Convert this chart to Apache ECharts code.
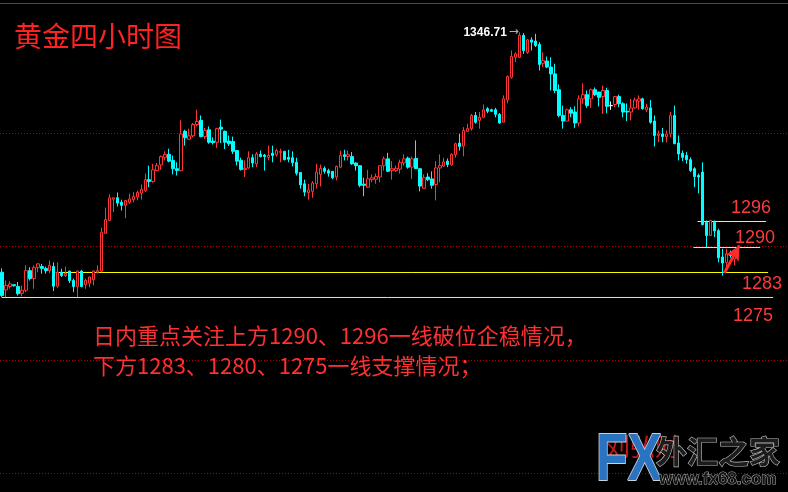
<!DOCTYPE html>
<html><head><meta charset="utf-8">
<script src="https://cdn.jsdelivr.net/npm/echarts@6/dist/echarts.min.js"></script>
<style>html,body{margin:0;padding:0;background:#000;}#c{width:788px;height:492px;}</style>
</head><body><div id="c"></div>
<script>
// ---------- data ----------
const title = '黄金四小时图';
// [open, close, low, high]
const ohlc = [
[1283.2,1277.0,1276.5,1284.2],[1278.5,1279.7,1276.6,1281.0],[1279.4,1280.1,1278.8,1280.8],[1279.9,1279.6,1279.4,1279.95],
[1279.4,1277.5,1277.0,1280.6],[1277.6,1278.4,1276.8,1279.7],[1278.4,1283.6,1277.9,1285.0],[1283.6,1281.5,1281.0,1284.5],
[1281.5,1284.4,1278.8,1285.0],[1284.4,1285.4,1283.2,1285.6],[1284.7,1284.2,1282.8,1285.4],[1284.2,1283.6,1282.8,1284.7],
[1283.6,1285.0,1282.9,1286.3],[1284.7,1279.5,1278.2,1285.8],[1279.5,1283.2,1279.1,1285.8],[1283.2,1282.3,1281.9,1284.1],
[1282.3,1282.9,1281.9,1284.7],[1283.5,1281.0,1280.3,1283.6],[1281.0,1279.4,1277.9,1281.5],[1279.4,1283.5,1276.6,1283.6],
[1283.5,1279.4,1279.2,1283.8],[1279.9,1281.0,1278.8,1281.5],[1280.3,1281.9,1279.2,1282.1],[1281.2,1283.5,1279.7,1283.6],
[1283.2,1283.6,1282.8,1285.0],[1283.5,1293.8,1283.2,1295.0],[1293.5,1297.1,1293.4,1300.3],[1296.9,1302.9,1296.7,1303.8],
[1302.5,1302.9,1299.1,1302.9],[1302.9,1301.5,1300.6,1304.3],[1301.7,1300.9,1299.5,1302.4],[1300.9,1302.2,1297.5,1302.2],
[1301.7,1302.6,1301.3,1304.0],[1302.4,1303.2,1301.7,1304.4],[1303.1,1304.3,1302.2,1304.8],[1304.1,1305.1,1302.4,1306.4],
[1304.8,1307.7,1304.4,1309.3],[1307.7,1307.2,1305.7,1311.4],[1307.2,1310.3,1306.9,1311.9],[1310.1,1311.4,1310.1,1312.1],
[1311.6,1313.8,1310.3,1314.1],[1313.6,1314.4,1312.8,1315.2],[1314.4,1312.6,1312.3,1315.9],[1312.8,1310.6,1309.1,1314.1],
[1310.6,1310.1,1308.8,1312.3],[1310.1,1319.8,1309.9,1323.4],[1320.5,1318.8,1316.7,1320.9],[1318.4,1319.3,1318.3,1321.2],
[1319.3,1322.3,1318.9,1322.7],[1322.3,1323.1,1321.8,1326.2],[1323.4,1319.1,1318.9,1324.7],[1319.1,1320.7,1318.5,1321.4],
[1320.9,1317.6,1317.2,1321.8],[1317.9,1317.5,1317.0,1318.9],[1317.6,1321.2,1316.1,1321.4],[1321.6,1321.1,1317.4,1323.6],
[1320.5,1317.6,1315.8,1320.7],[1317.9,1317.2,1316.6,1319.4],[1317.8,1315.2,1314.5,1319.1],[1315.4,1312.6,1311.5,1315.4],
[1312.8,1310.4,1310.1,1313.5],[1310.4,1310.7,1308.4,1312.8],[1310.8,1313.5,1310.6,1315.2],[1313.5,1312.1,1311.0,1314.4],
[1311.9,1314.5,1311.0,1315.0],[1314.4,1313.8,1313.6,1315.4],[1314.2,1313.8,1310.1,1314.5],[1313.6,1314.1,1312.8,1316.7],
[1314.7,1314.1,1312.3,1316.7],[1314.3,1315.4,1313.8,1315.9],[1314.9,1315.2,1312.3,1315.9],[1315.2,1313.0,1312.8,1315.2],
[1313.6,1313.1,1312.3,1315.6],[1313.5,1312.2,1311.2,1315.2],[1312.3,1309.4,1308.8,1313.5],[1309.6,1306.3,1305.3,1309.6],
[1306.6,1304.4,1303.3,1307.7],[1304.3,1305.0,1302.4,1306.6],[1304.6,1306.8,1302.9,1307.3],[1306.6,1309.7,1305.3,1311.9],
[1309.1,1310.7,1305.9,1311.7],[1310.7,1309.9,1309.3,1311.2],[1310.1,1309.4,1308.5,1310.6],[1309.9,1308.2,1307.8,1309.9],
[1308.4,1311.2,1307.5,1311.4],[1311.0,1314.1,1310.7,1315.4],[1314.3,1313.8,1312.8,1315.6],[1313.8,1314.3,1312.8,1315.4],
[1313.8,1311.9,1311.6,1315.0],[1312.1,1311.4,1310.1,1312.3],[1311.4,1306.2,1305.7,1311.4],[1306.5,1306.2,1303.3,1308.2],
[1305.7,1307.9,1305.5,1310.3],[1307.7,1308.2,1307.0,1309.1],[1307.8,1308.5,1306.6,1309.3],[1308.4,1311.4,1307.0,1311.4],
[1311.4,1313.2,1310.1,1313.8],[1313.2,1309.9,1309.7,1314.8],[1310.1,1310.6,1307.7,1312.6],[1310.1,1310.7,1309.7,1311.4],
[1310.5,1312.2,1309.3,1313.0],[1312.1,1313.2,1311.4,1314.4],[1313.4,1311.0,1310.6,1313.8],[1311.0,1313.2,1307.9,1313.8],
[1313.3,1310.6,1310.6,1318.1],[1310.6,1306.0,1304.6,1310.6],[1305.4,1308.2,1305.3,1309.1],[1308.4,1307.7,1307.3,1309.4],
[1307.9,1306.2,1305.3,1309.9],[1306.4,1310.8,1302.2,1312.6],[1310.8,1311.4,1307.0,1314.4],[1311.3,1312.4,1311.0,1313.5],
[1312.6,1311.7,1311.0,1313.3],[1311.6,1314.4,1311.4,1314.7],[1314.3,1317.2,1313.5,1317.5],[1317.4,1316.5,1315.4,1319.8],
[1316.6,1320.7,1313.9,1321.6],[1320.5,1321.2,1320.3,1322.5],[1321.2,1324.7,1320.7,1325.1],[1324.7,1322.9,1322.5,1325.6],
[1323.4,1324.2,1321.2,1325.6],[1324.2,1326.2,1324.1,1327.6],[1326.5,1325.8,1325.3,1326.9],[1326.2,1325.8,1325.7,1326.5],
[1326.2,1325.0,1324.2,1326.7],[1325.0,1322.7,1322.5,1325.3],[1322.9,1329.1,1322.9,1330.0],[1328.8,1335.0,1327.9,1335.3],
[1334.8,1340.3,1334.4,1341.9],[1340.1,1341.0,1338.8,1341.4],[1340.1,1345.9,1340.0,1346.71],[1345.9,1341.9,1341.0,1346.5],
[1341.4,1344.7,1341.0,1345.0],[1344.7,1344.1,1341.9,1345.4],[1344.4,1343.2,1342.8,1346.3],[1343.5,1338.2,1336.6,1344.1],
[1338.5,1339.2,1337.5,1341.4],[1339.1,1337.5,1337.2,1340.3],[1337.5,1335.7,1331.3,1340.1],[1335.7,1331.3,1330.6,1338.4],
[1331.5,1324.7,1324.2,1332.9],[1324.7,1323.2,1321.2,1327.3],[1323.2,1326.2,1323.2,1326.5],[1326.2,1325.3,1324.2,1326.9],
[1325.6,1322.7,1321.4,1327.1],[1322.7,1329.1,1321.8,1330.0],[1329.1,1330.2,1327.8,1333.2],[1330.2,1327.3,1326.7,1331.3],
[1329.1,1331.5,1326.7,1331.8],[1331.5,1330.2,1329.8,1332.1],[1330.9,1329.5,1327.1,1330.9],[1329.7,1331.3,1325.1,1332.6],
[1331.3,1327.1,1325.3,1332.0],[1327.3,1327.3,1326.2,1328.4],[1327.6,1329.7,1326.9,1329.7],[1329.7,1327.8,1326.9,1330.2],
[1327.8,1325.6,1324.2,1328.2],[1325.8,1325.6,1323.2,1327.9],[1325.6,1326.7,1323.4,1329.1],[1326.7,1328.8,1326.5,1329.4],
[1328.5,1329.1,1326.2,1330.0],[1329.1,1326.5,1326.2,1329.4],[1326.2,1326.9,1325.6,1327.8],[1326.7,1322.9,1322.5,1328.8],
[1323.2,1319.4,1316.5,1324.7],[1319.4,1319.8,1317.6,1320.7],[1319.8,1319.1,1317.6,1321.4],[1319.1,1319.8,1317.6,1320.7],
[1319.8,1324.7,1318.9,1325.6],[1324.7,1317.2,1317.2,1327.3],[1317.4,1314.5,1312.8,1319.4],[1314.7,1313.6,1312.6,1315.4],
[1314.1,1313.0,1311.9,1315.0],[1313.0,1310.1,1309.7,1313.6],[1310.6,1308.5,1305.7,1311.0],[1308.8,1308.4,1304.1,1309.3],
[1309.7,1295.8,1295.6,1312.3],[1296.4,1292.9,1289.8,1296.9],[1292.9,1296.9,1292.9,1296.9],[1296.4,1294.1,1292.5,1296.9],
[1294.2,1287.0,1285.8,1294.7],[1287.2,1285.6,1282.3,1289.4],[1285.8,1288.1,1284.5,1289.4],[1288.2,1287.6,1287.0,1288.9],
[1286.7,1288.1,1285.0,1288.9]
];
const slotCount = 198;               // bars + empty space on the right
const gridPrices = [1230, 1260, 1290, 1320];
const levels      = [1296.62, 1289.73, 1283.12, 1276.5];
const levelFrom   = [174.75, 173.75, 13.5, 0];
const levelTo     = [192, 190.5, 192.5, 193.75];
const levelLabels = ['1296', '1290', '1283', '1275'];
const arrowFrom = [181.5, 1283.0];
const arrowTo   = [185.3, 1290.3];
const noteLines = ['日内重点关注上方1290、1296一线破位企稳情况，', '下方1283、1280、1275一线支撑情况；'];
const yMin = 1225.0, yMax = 1354.47;

// ---------- chart ----------
const RED = '#ff3535', CYAN = '#00ffff', YEL = '#ffff00';
const cats = Array.from({length: slotCount}, (_, i) => String(i));
const chart = echarts.init(document.getElementById('c'), null, {renderer: 'canvas'});

const levelSeries = levels.map((v, i) => ({
  type: 'line', xAxisIndex: 1, yAxisIndex: 0, silent: true, symbol: 'none', z: 3,
  lineStyle: {color: YEL, width: 1},
  data: [[levelFrom[i], v], [levelTo[i], v]]
}));

const labelPos = [[731, 208], [735, 238], [742, 284], [733, 316]];

chart.setOption({
  backgroundColor: '#000',
  animation: false,
  grid: {left: -2, right: -2, top: 3, bottom: 0, containLabel: false},
  xAxis: [
    {type: 'category', data: cats, position: 'top', boundaryGap: true,
     axisLine: {show: true, lineStyle: {color: '#b3201c', width: 1}},
     axisTick: {show: false}, axisLabel: {show: false}, splitLine: {show: false}},
    {type: 'value', min: -0.5, max: slotCount - 0.5, show: false}
  ],
  yAxis: {type: 'value', min: yMin, max: yMax, show: false, splitLine: {show: false}},
  series: [
    {
      type: 'candlestick', data: ohlc, barWidth: 3, z: 4,
      itemStyle: {color: '#000', color0: CYAN, borderColor: RED, borderColor0: CYAN,
                  borderColorDoji: '#ffffff', borderWidth: 1},
      markLine: {
        silent: true, symbol: ['none', 'none'], z: 1,
        label: {show: false},
        lineStyle: {color: '#b00000', type: [1, 2], width: 1},
        data: gridPrices.map(p => ({yAxis: p}))
      },
      markPoint: {
        symbol: 'circle', symbolSize: 1, itemStyle: {color: 'rgba(0,0,0,0)'},
        data: [{type: 'max', valueDim: 'highest'}],
        label: {
          show: true, position: 'left', distance: 0,
          formatter: p => '{a|' + p.value.toFixed(2) + '}{b|→}',
          rich: {
            a: {color: '#ffffff', fontSize: 12, fontWeight: 'bold', fontFamily: 'Liberation Sans'},
            b: {color: '#b0b0b0', fontSize: 12, fontFamily: 'DejaVu Sans', padding: [0, 0, 0, 2]}
          }
        }
      }
    },
    ...levelSeries,
    {
      type: 'line', xAxisIndex: 1, yAxisIndex: 0, silent: true, symbol: 'none', z: 6,
      lineStyle: {opacity: 0}, data: [arrowFrom, arrowTo],
      markLine: {
        silent: true, symbol: ['none', 'arrow'], symbolSize: [11, 15],
        label: {show: false},
        lineStyle: {color: '#ff2a2a', width: 3, type: 'solid'},
        data: [[{coord: arrowFrom}, {coord: arrowTo}]]
      }
    }
  ],
  graphic: [
    {type: 'text', x: 14, y: 36, z: 10,
     style: {text: title, fill: '#ff2222', font: '28px "Noto Sans CJK SC"', verticalAlign: 'middle'}},
    ...levelLabels.map((t, i) => ({type: 'text', x: labelPos[i][0], y: labelPos[i][1], z: 10,
      style: {text: t, fill: '#ff3a3a', font: '18px "Liberation Sans"', verticalAlign: 'middle'}})),
    {type: 'text', x: 93, y: 336, z: 10,
     style: {text: noteLines[0], fill: '#ff3030', font: '22px "Noto Sans CJK SC"', verticalAlign: 'middle'}},
    {type: 'text', x: 93, y: 366, z: 10,
     style: {text: noteLines[1], fill: '#ff3030', font: '22px "Noto Sans CJK SC"', verticalAlign: 'middle'}},
    // watermark
    {type: 'text', x: 605, y: 446, z: 10,
     style: {text: '刘弘财', fill: '#c81818', font: '25px "Noto Sans CJK SC"', verticalAlign: 'middle'}},
    {type: 'text', x: 596, y: 462, z: 11, scaleX: 0.78,
     style: {text: 'FX', font: 'bold 66px "Liberation Sans"', verticalAlign: 'middle',
       fill: '#2a73c0', stroke: '#c8d2dc', lineWidth: 2}},
    {type: 'text', x: 656, y: 451, z: 11,
     style: {text: '外汇之家', font: 'bold 31px "Noto Sans CJK SC"', verticalAlign: 'middle',
       fill: '#1c1c1c', stroke: '#bdbdbd', lineWidth: 1.2}},
    {type: 'text', x: 659, y: 479, z: 11,
     style: {text: 'www.fx68.com', font: 'bold 17px "Liberation Sans"', verticalAlign: 'middle',
       fill: '#151515', stroke: '#a8a8a8', lineWidth: 1}}
  ]
});
</script></body></html>
